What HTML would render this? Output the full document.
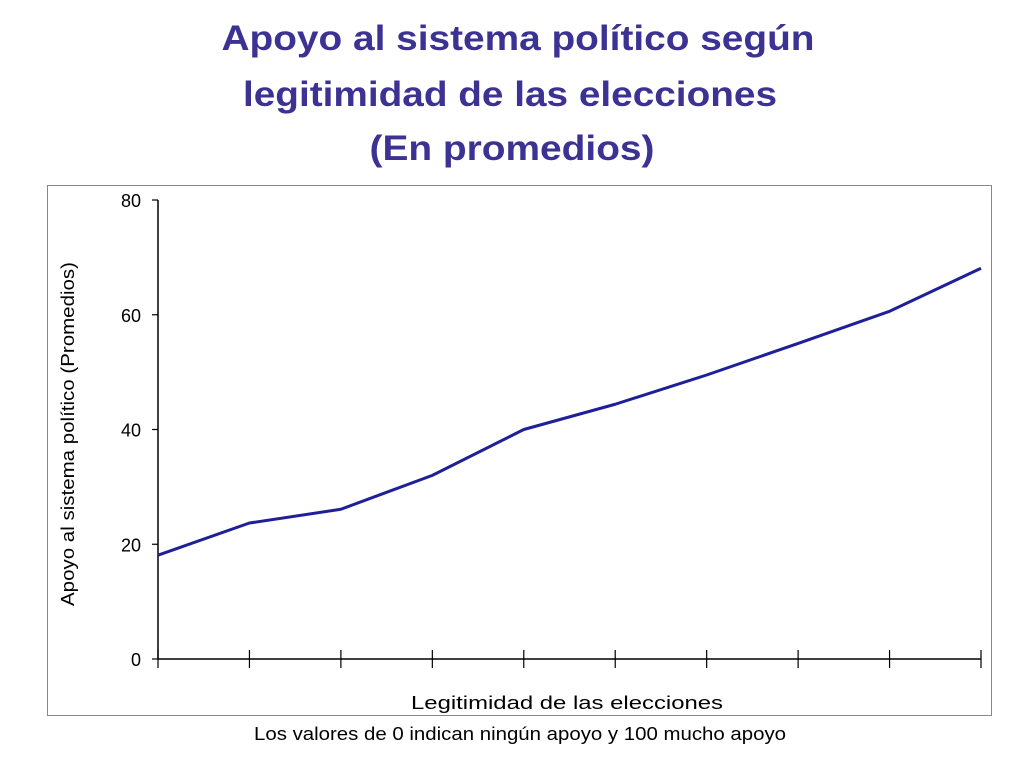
<!DOCTYPE html>
<html><head><meta charset="utf-8"><style>
body{margin:0;background:#fff;width:1024px;height:768px;overflow:hidden;font-family:"Liberation Sans",sans-serif}
</style></head><body>
<svg id="s" width="1024" height="768" viewBox="0 0 1024 768">
<g fill="#3b3293" font-weight="bold" font-size="35" text-anchor="middle">
<text x="518" y="50" textLength="593" lengthAdjust="spacingAndGlyphs">Apoyo al sistema político según</text>
<text x="510" y="106" textLength="534" lengthAdjust="spacingAndGlyphs">legitimidad de las elecciones</text>
<text x="512" y="160" textLength="285" lengthAdjust="spacingAndGlyphs">(En promedios)</text>
</g>
<rect x="47.5" y="185.5" width="944" height="530" fill="none" stroke="#888" stroke-width="1"/>
<g id="axes"></g>
<text x="567" y="709" font-size="18" text-anchor="middle" textLength="312" lengthAdjust="spacingAndGlyphs">Legitimidad de las elecciones</text>
<text transform="translate(74,434) rotate(-90)" font-size="18" text-anchor="middle" textLength="344" lengthAdjust="spacingAndGlyphs">Apoyo al sistema político (Promedios)</text>
<text x="520" y="740" font-size="18" text-anchor="middle" textLength="532" lengthAdjust="spacingAndGlyphs">Los valores de 0 indican ningún apoyo y 100 mucho apoyo</text>
</svg>
<script>
const categories=[1,2,3,4,5,6,7,8,9,10];
const values=[18.1,23.7,26.1,32.0,40.0,44.4,49.5,55.0,60.6,68.1];
const yTicks=[0,20,40,60,80];
const NS="http://www.w3.org/2000/svg";
const x0=158,x1=981,y0=659,y1=200;
const xs=i=>x0+(x1-x0)*i/(categories.length-1);
const ys=v=>y0-(y0-y1)*v/80;
const g=document.getElementById('axes');
function mk(t,a){const e=document.createElementNS(NS,t);for(const k in a)e.setAttribute(k,a[k]);g.appendChild(e);return e;}
let e=mk('line',{x1:x0,y1:y1,x2:x0,y2:y0,stroke:'#000','stroke-width':1.5});


e=mk('line',{x1:x0,y1:y0,x2:x1,y2:y0,stroke:'#000','stroke-width':1.5});


yTicks.forEach(v=>{
 let t=mk('line',{x1:x0-6,y1:ys(v),x2:x0,y2:ys(v),stroke:'#000','stroke-width':1.2});
 
 
 let l=mk('text',{x:141,y:ys(v)+7,'font-size':18,'text-anchor':'end'});
 l.textContent=v;
 
 
});
categories.forEach((c,i)=>{
 let t=mk('line',{x1:xs(i),y1:y0-9,x2:xs(i),y2:y0+9,stroke:'#000','stroke-width':1.2});
 
 
});
const p=mk('polyline',{points:values.map((v,i)=>xs(i)+','+ys(v)).join(' '),fill:'none',stroke:'#1f1f99','stroke-width':3,'stroke-linejoin':'round'});


</script>
</body></html>
